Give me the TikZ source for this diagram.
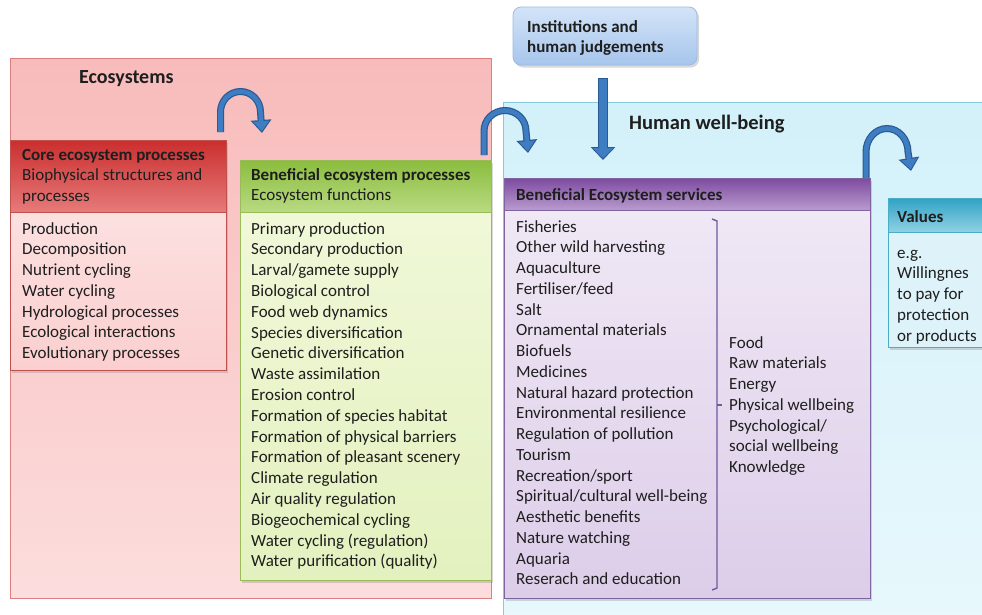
\documentclass[tikz,border=0pt]{standalone}
\usepackage{fontspec}
\setmainfont{Carlito}
\usetikzlibrary{shadows,arrows.meta}
\definecolor{txtc}{HTML}{1E1E1E}
\definecolor{pink1}{HTML}{F8BBBB}
\definecolor{pink2}{HTML}{FCDDDD}
\definecolor{pinkb}{HTML}{DD7F80}
\definecolor{coreh1}{HTML}{CB2E2E}
\definecolor{coreh2}{HTML}{E67A7A}
\definecolor{coreb1}{HTML}{FCE0E0}
\definecolor{coreb2}{HTML}{FBCFCF}
\definecolor{coreln}{HTML}{C0504D}
\definecolor{grh1}{HTML}{8ABD3D}
\definecolor{grh2}{HTML}{B9DA82}
\definecolor{grb1}{HTML}{F0F8D8}
\definecolor{grb2}{HTML}{E3F1BF}
\definecolor{grln}{HTML}{9BBB59}
\definecolor{blue1}{HTML}{D3F1FA}
\definecolor{blue2}{HTML}{E8F8FC}
\definecolor{blueln}{HTML}{86CADB}
\definecolor{inst1}{HTML}{D3E4F8}
\definecolor{inst2}{HTML}{A7C5EC}
\definecolor{instln}{HTML}{9DBBE3}
\definecolor{puh1}{HTML}{7D4A9F}
\definecolor{puh2}{HTML}{B89BCE}
\definecolor{pub1}{HTML}{F0E8F5}
\definecolor{pub2}{HTML}{DCCDE9}
\definecolor{puln}{HTML}{8064A2}
\definecolor{brc}{HTML}{6F5A9E}
\definecolor{vah1}{HTML}{2FA2C6}
\definecolor{vah2}{HTML}{90D1E3}
\definecolor{vab}{HTML}{DDF2F9}
\definecolor{valn}{HTML}{4BACC6}
\definecolor{archf}{HTML}{3F7DC3}
\definecolor{archb}{HTML}{2A5A92}
\tikzset{
  txt/.style={font=\fontsize{17}{20.75}\selectfont, inner sep=0pt, text=txtc, anchor=base west},
  btxt/.style={txt, font=\fontsize{17}{20.75}\selectfont\bfseries},
  ttl/.style={txt, font=\fontsize{20}{22}\selectfont\bfseries},
  box/.style={draw, inner sep=0pt, outer sep=0pt, anchor=north west, line width=0.8pt},
  shad/.style={drop shadow={opacity=0.3, shadow xshift=2pt, shadow yshift=-2.5pt}},
  archs/.style={draw=archf, line width=4.6pt, shorten >=1.8pt,
    -{Triangle[width=15.5pt,length=10pt]},
    preaction={draw=archb, line width=7pt, shorten >=0pt, -{Triangle[width=20pt,length=13pt]}}},
  downarr/.style={draw=archf, line width=8pt, shorten >=1.8pt, shorten <=1pt,
    -{Triangle[width=20pt,length=10pt]},
    preaction={draw=archb, line width=10.5pt, shorten >=0pt, shorten <=0pt, -{Triangle[width=24pt,length=13pt]}}},
  brace/.style={draw=brc, line width=1.4pt}
}
\begin{document}
\begin{tikzpicture}[x=1pt,y=-1pt]
\useasboundingbox (0,0) rectangle (982,614);
\clip (0,0) rectangle (982,614);
\fill[white] (0,0) rectangle (982,614);

% Ecosystems region
\node[box, draw=pinkb, top color=pink1, bottom color=pink2, minimum width=481pt, minimum height=540pt] (eco) at (10,58) {};
\node[ttl] (ecoT) at (79,83) {Ecosystems};

% Human well-being region
\node[box, draw=blueln, top color=blue1, bottom color=blue2, minimum width=500pt, minimum height=520pt] (hwb) at (503,102) {};
\node[ttl, font=\fontsize{20.5}{22}\selectfont\bfseries] (hwbT) at (629,129) {Human well-being};

% Institutions
\node[box, shad, draw=instln, rounded corners=8pt, top color=inst1, bottom color=inst2, minimum width=184pt, minimum height=58pt] (inst) at (513,7) {};
\node[btxt] (instT1) at (527,32) {Institutions and};
\node[btxt] (instT2) at (527,52.5) {human judgements};

% Core ecosystem processes
\node[box, shad, draw=none, fill=white, minimum width=216pt, minimum height=230pt] (coreS) at (10,140) {};
\node[box, draw=coreln, top color=coreh1, bottom color=coreh2, minimum width=216pt, minimum height=72pt] (coreH) at (10,140) {};
\node[box, draw=coreln, top color=coreb1, bottom color=coreb2, minimum width=216pt, minimum height=158pt] (coreB) at (10,212) {};
\node[btxt] (coreT) at (22,160) {Core ecosystem processes};
\node[txt] (coreT2) at (22,180.75) {Biophysical structures and};
\node[txt] (coreT3) at (22,201.5) {processes};
\foreach \t [count=\i from 0] in {Production,Decomposition,Nutrient cycling,Water cycling,Hydrological processes,Ecological interactions,Evolutionary processes}
  \node[txt] (core-\i) at (22,{234+\i*20.75}) {\t};

% Beneficial ecosystem processes
\node[box, shad, draw=none, fill=white, minimum width=251pt, minimum height=420pt] (benS) at (240,160) {};
\node[box, draw=grln, top color=grh1, bottom color=grh2, minimum width=251pt, minimum height=52pt] (benH) at (240,160) {};
\node[box, draw=grln, top color=grb1, bottom color=grb2, minimum width=251pt, minimum height=368pt] (benB) at (240,212) {};
\node[btxt] (benT) at (251,180) {Beneficial ecosystem processes};
\node[txt] (benT2) at (251,200.5) {Ecosystem functions};
\foreach \t [count=\i from 0] in {Primary production,Secondary production,Larval/gamete supply,Biological control,Food web dynamics,Species diversification,Genetic diversification,Waste assimilation,Erosion control,Formation of species habitat,Formation of physical barriers,Formation of pleasant scenery,Climate regulation,Air quality regulation,Biogeochemical cycling,Water cycling (regulation),Water purification (quality)}
  \node[txt] (ben-\i) at (251,{234+\i*20.8}) {\t};

% Beneficial ecosystem services
\node[box, shad, draw=none, fill=white, minimum width=366pt, minimum height=420pt] (srvS) at (504,178) {};
\node[box, draw=puln, top color=puh1, bottom color=puh2, minimum width=366pt, minimum height=32pt] (srvH) at (504,178) {};
\node[box, draw=puln, top color=pub1, bottom color=pub2, minimum width=366pt, minimum height=388pt] (srvB) at (504,210) {};
\node[btxt] (srvT) at (516,200) {Beneficial Ecosystem services};
\foreach \t [count=\i from 0] in {Fisheries,Other wild harvesting,Aquaculture,Fertiliser/feed,Salt,Ornamental materials,Biofuels,Medicines,Natural hazard protection,Environmental resilience,Regulation of pollution,Tourism,Recreation/sport,Spiritual/cultural well-being,Aesthetic benefits,Nature watching,Aquaria,Reserach and education}
  \node[txt] (srv-\i) at (516,{232+\i*20.76}) {\t};
\foreach \t [count=\i from 0] in {Food,Raw materials,Energy,Physical wellbeing,Psychological/,social wellbeing,Knowledge}
  \node[txt] (cat-\i) at (729,{348+\i*20.75}) {\t};
\coordinate (brTop) at (712,219);
\coordinate (brBot) at (712,590);
\coordinate (brMid) at (717,405);
\draw[brace] (brTop) -- (717,221) -- (717,588) -- (brBot);
\draw[brace] (brMid) -- ++(5,0);

% Values
\node[box, shad, draw=none, fill=white, minimum width=110pt, minimum height=149pt] (valS) at (888,198) {};
\node[box, draw=valn, top color=vah1, bottom color=vah2, minimum width=110pt, minimum height=34pt] (valH) at (888,198) {};
\node[box, draw=valn, fill=vab, minimum width=110pt, minimum height=115pt] (valB) at (888,232) {};
\node[btxt] (valT) at (897,222) {Values};
\foreach \t [count=\i from 0] in {e.g.,Willingnes,to pay for,protection,or products}
  \node[txt] (val-\i) at (897,{258+\i*20.75}) {\t};

% Arrows
\coordinate (a1s) at (220.5,132);
\coordinate (a1e) at (262,133);
\path[archs] (a1s) -- (220.5,112) arc[start angle=180, end angle=360, x radius=20, y radius=20.5] -- (a1e);
\coordinate (a2s) at (484,155);
\coordinate (a2e) at (528,153);
\path[archs] (a2s) -- (484,131) arc[start angle=180, end angle=360, x radius=21, y radius=20.5] -- (a2e);
\coordinate (a3s) at (866,178);
\coordinate (a3e) at (911,171);
\path[archs] (a3s) -- (866,152) arc[start angle=180, end angle=360, x radius=21, y radius=23.5] -- (a3e);
\coordinate (dTop) at (603,78);
\coordinate (dBot) at (603,160);
\path[downarr] (dTop) -- (dBot);
\end{tikzpicture}
\end{document}
